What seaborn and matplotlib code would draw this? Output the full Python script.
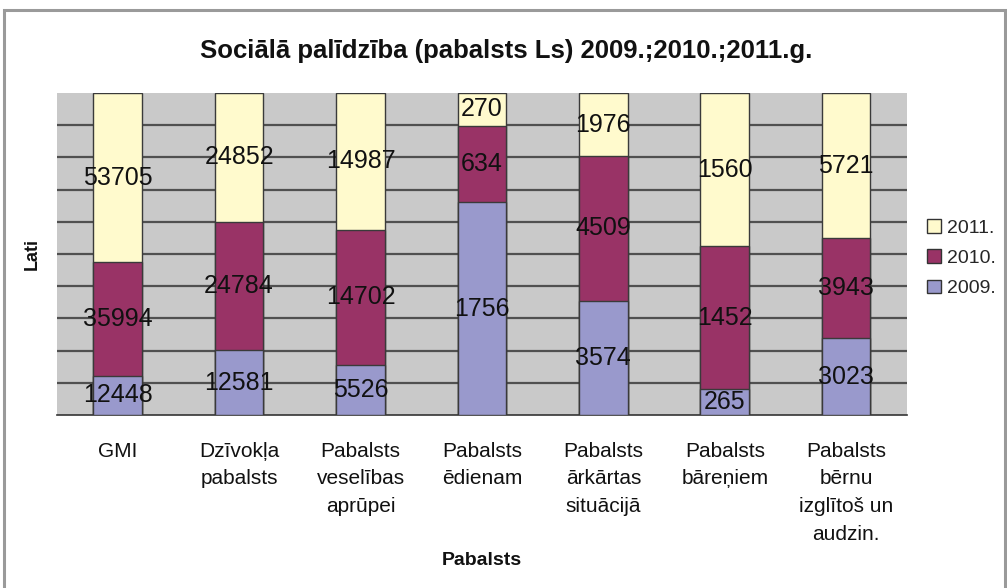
import numpy as np
import pandas as pd
import matplotlib
matplotlib.use("Agg")
import matplotlib.pyplot as plt
from matplotlib.patches import Rectangle, Patch
import seaborn as sns

categories = ["GMI", "Dzīvokļa\npabalsts", "Pabalsts\nveselības\naprūpei",
              "Pabalsts\nēdienam", "Pabalsts\nārkārtas\nsituācijā",
              "Pabalsts\nbāreņiem", "Pabalsts\nbērnu\nizglītoš un\naudzin."]
v2009 = [12448, 12581, 5526, 1756, 3574, 265, 3023]
v2010 = [35994, 24784, 14702, 634, 4509, 1452, 3943]
v2011 = [53705, 24852, 14987, 270, 1976, 1560, 5721]
series_names = ["2009.", "2010.", "2011."]
colors = {"2009.": "#9999CC", "2010.": "#993366", "2011.": "#FFFACD"}

sns.set_theme(style="white")
plt.rcParams["font.family"] = ["Liberation Sans", "DejaVu Sans"]

df = pd.DataFrame({"cat": categories, "2009.": v2009, "2010.": v2010, "2011.": v2011})
tot = df[series_names].sum(axis=1)
pct = df[series_names].div(tot, axis=0) * 100
cum = pct.cumsum(axis=1)
df["c2009"] = cum["2009."]
df["c2010"] = cum["2010."]
df["c2011"] = cum["2011."]

fig = plt.figure(figsize=(10.07, 5.88), dpi=100)
ax = fig.add_axes([0.0566, 0.294, 0.844, 0.548])
ax.set_facecolor("#C9C9C9")

for col, name in [("c2011", "2011."), ("c2010", "2010."), ("c2009", "2009.")]:
    sns.barplot(data=df, x="cat", y=col, color=colors[name], saturation=1,
                width=0.4, edgecolor="#3a3a3a", linewidth=1.0, ax=ax, zorder=3)

# data labels centred in each segment
for i in range(len(categories)):
    lower = 0.0
    for name in series_names:
        upper = cum.loc[i, name]
        ax.text(i, (lower + upper) / 2, str(df.loc[i, name]), ha="center", va="center",
                fontsize=18, color="#111111", zorder=5)
        lower = upper

ax.set_ylim(0, 100)
ax.set_xlim(-0.5, len(categories) - 0.5)
ax.set_yticks(np.arange(10, 100, 10))
ax.set_yticklabels([])
ax.yaxis.grid(True, color="#505050", linewidth=1.6, zorder=1)
ax.set_axisbelow(True)
ax.tick_params(axis="y", length=0)
ax.set_xticks(range(len(categories)))
ax.set_xticklabels(categories, fontsize=15, linespacing=1.58, color="#111111")
ax.tick_params(axis="x", which="major", length=0, pad=19)
ax.set_xticks(np.arange(-0.5, len(categories), 1), minor=True)
ax.tick_params(axis="x", which="minor", length=7, width=1.2, color="#333333", direction="out")
for s in ["top", "right", "left"]:
    ax.spines[s].set_visible(False)
ax.spines["bottom"].set_color("#333333")
ax.spines["bottom"].set_linewidth(1.2)

ax.set_xlabel("Pabalsts", fontsize=14, fontweight="bold", color="#111111")
ax.xaxis.set_label_coords(0.5, -0.425)
ax.set_ylabel("Lati", fontsize=13, fontweight="bold", labelpad=8, color="#111111")

fig.text(0.503, 0.913, "Sociālā palīdzība (pabalsts Ls) 2009.;2010.;2011.g.",
         ha="center", va="center", fontsize=18.5, fontweight="bold", color="#111111")

handles = [Patch(facecolor=colors[n], edgecolor="#333333", linewidth=1.0, label=n)
           for n in ["2011.", "2010.", "2009."]]
fig.legend(handles=handles, loc="center left", bbox_to_anchor=(0.913, 0.561),
           frameon=False, fontsize=14, handlelength=0.7, handleheight=0.7,
           handletextpad=0.3, labelspacing=0.65, borderaxespad=0)

fig.patches.append(Rectangle((0.004, -0.05), 0.994, 1.033, transform=fig.transFigure,
                             fill=False, edgecolor="#9a9a9a", linewidth=2.2, zorder=0))

fig.savefig("out.png", dpi=100)
